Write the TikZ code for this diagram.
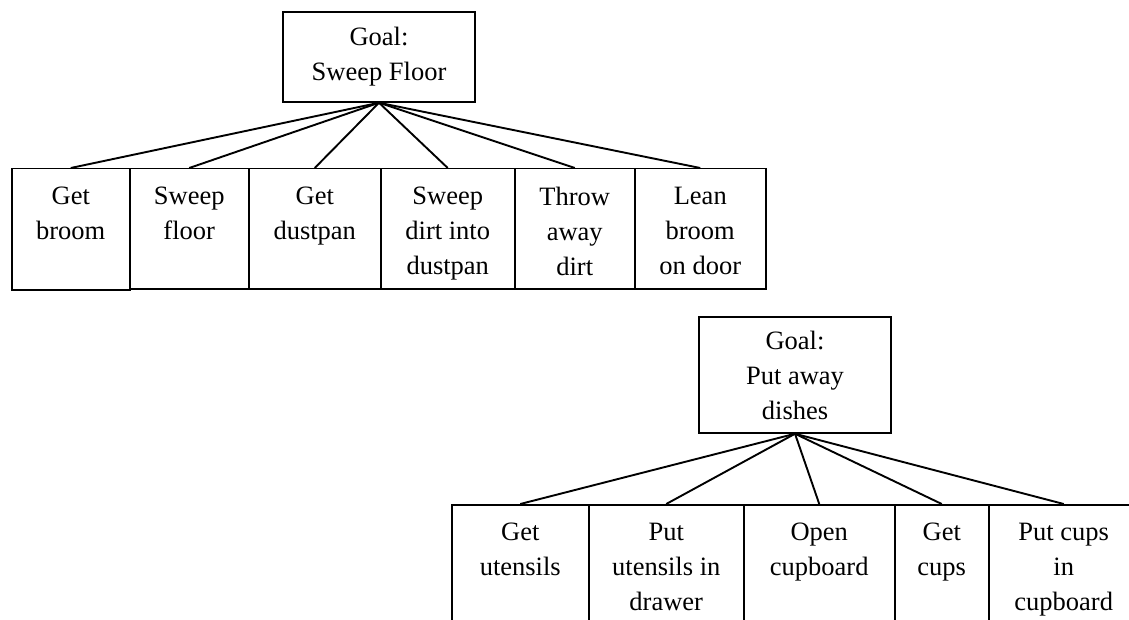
\documentclass[tikz,border=0pt]{standalone}
\usepackage{fontspec}
\setmainfont{Liberation Serif}
\tikzset{
  goalbox/.style={draw, line width=1.5pt, inner sep=0pt, align=center, minimum width=192pt},
  taskbox/.style={draw, line width=1.5pt, inner sep=0pt, anchor=north west},
  tasktext/.style={anchor=north, inner sep=0pt, align=center},
  link/.style={line width=1.9pt}
}
\begin{document}
\begin{tikzpicture}[x=1pt, y=-1pt, font=\fontsize{26.5}{35}\selectfont]
      \clip (0, 0) rectangle (1129, 620);

      % first goal
      \node[goalbox, minimum height=90pt] (floor) at (379, 57){Goal:\\Sweep Floor};

      \node[taskbox, minimum width=118pt, minimum height=121pt] (broom) at (11, 168){};
      \node[taskbox, minimum width=119pt, minimum height=120pt] (sweep) at (129, 168){};
      \node[taskbox, minimum width=132pt, minimum height=120pt] (dustpan) at (248, 168){};
      \node[taskbox, minimum width=134pt, minimum height=120pt] (dirt) at (380, 168){};
      \node[taskbox, minimum width=120pt, minimum height=120pt] (throw) at (514, 168){};
      \node[taskbox, minimum width=131pt, minimum height=120pt] (lean) at (634, 168){};

      \node[tasktext] (broomtxt) at ([yshift=-19pt]broom.north){Get\\broom};
      \node[tasktext] (sweeptxt) at ([yshift=-19pt]sweep.north){Sweep\\floor};
      \node[tasktext] (dustpantxt) at ([yshift=-19pt]dustpan.north){Get\\dustpan};
      \node[tasktext] (dirttxt) at ([yshift=-19pt]dirt.north){Sweep\\dirt into\\dustpan};
      \node[tasktext] (throwtxt) at ([yshift=-19pt]throw.north){Throw\\away\\dirt};
      \node[tasktext] (leantxt) at ([yshift=-19pt]lean.north){Lean\\broom\\on door};

      \draw[link] (floor.south) -- (broom.north);
      \draw[link] (floor.south) -- (sweep.north);
      \draw[link] (floor.south) -- (dustpan.north);
      \draw[link] (floor.south) -- (dirt.north);
      \draw[link] (floor.south) -- (throw.north);
      \draw[link] (floor.south) -- (lean.north);

      % second goal
      \node[goalbox, minimum height=116pt] (dishes) at (795, 375){Goal:\\Put away\\dishes};

      \node[taskbox, minimum width=137pt, minimum height=140pt] (utensils) at (451, 504){};
      \node[taskbox, minimum width=155pt, minimum height=140pt] (drawer) at (588, 504){};
      \node[taskbox, minimum width=151pt, minimum height=140pt] (cupboard) at (743, 504){};
      \node[taskbox, minimum width=94pt, minimum height=140pt] (cups) at (894, 504){};
      \node[taskbox, minimum width=150pt, minimum height=140pt] (putcups) at (988, 504){};

      \node[tasktext] (utensilstxt) at ([yshift=-19pt]utensils.north){Get\\utensils};
      \node[tasktext] (drawertxt) at ([yshift=-19pt]drawer.north){Put\\utensils in\\drawer};
      \node[tasktext] (cupboardtxt) at ([yshift=-19pt]cupboard.north){Open\\cupboard};
      \node[tasktext] (cupstxt) at ([yshift=-19pt]cups.north){Get\\cups};
      \node[tasktext] (putcupstxt) at ([yshift=-19pt]putcups.north){Put cups\\in\\cupboard};

      \draw[link] (dishes.south) -- (utensils.north);
      \draw[link] (dishes.south) -- (drawer.north);
      \draw[link] (dishes.south) -- (cupboard.north);
      \draw[link] (dishes.south) -- (cups.north);
      \draw[link] (dishes.south) -- (putcups.north);

    \end{tikzpicture}
\end{document}
